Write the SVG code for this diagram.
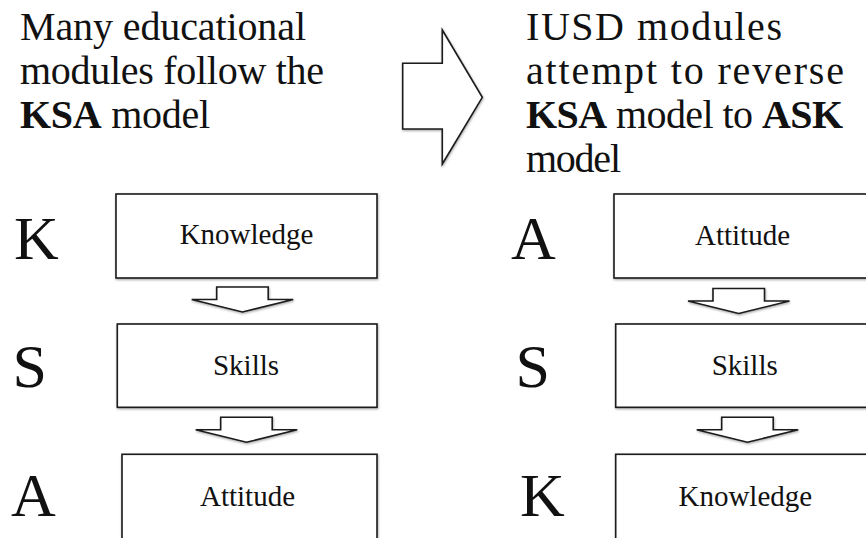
<svg xmlns="http://www.w3.org/2000/svg" width="866" height="538" viewBox="0 0 866 538">
<style>
  .hdr { font-size: 40px; fill: #111; }
  .b { font-weight: bold; }
  .big { font-size: 62px; fill: #111; }
  .lbl { font-size: 29px; fill: #111; text-anchor: middle; }
  .box { fill: #fff; stroke: #1a1a1a; stroke-width: 1.6; filter: url(#sh); }
  .arr { fill: #fff; stroke: #1a1a1a; stroke-width: 1.6; stroke-linejoin: miter; filter: url(#sh); }
</style>
<defs>
  <filter id="sh" x="-10%" y="-10%" width="130%" height="130%">
    <feDropShadow dx="0.6" dy="1.2" stdDeviation="0.8" flood-color="#000" flood-opacity="0.35"/>
  </filter>
  <path id="down" d="M0,0 H51.5 V12.5 H76.5 L25.75,25 L-25,12.5 H0 Z"/>
</defs>
<rect width="866" height="538" fill="#fff"/>
<g font-family="'Liberation Serif', 'DejaVu Serif', serif">
<g id="header-left">
  <text class="hdr" x="20" y="40" textLength="286">Many educational</text>
  <text class="hdr" x="20" y="84" textLength="304">modules follow the</text>
  <text class="hdr" x="20" y="128" textLength="190"><tspan class="b">KSA</tspan> model</text>
</g>
<g id="header-right">
  <text class="hdr" x="526" y="40" textLength="256">IUSD modules</text>
  <text class="hdr" x="526" y="84" textLength="318">attempt to reverse</text>
  <text class="hdr" x="526" y="128" textLength="317"><tspan class="b">KSA</tspan> model to <tspan class="b">ASK</tspan></text>
  <text class="hdr" x="526" y="172" textLength="95">model</text>
</g>

<g id="connectors">
  <polygon id="big-arrow" class="arr" points="402.7,63.3 442.3,63.3 442.3,30 482.3,97.3 442.3,164 442.3,129 402.7,129"/>
  <use class="arr" href="#down" transform="translate(216.7,287)"/>
  <use class="arr" href="#down" transform="translate(220.7,417.3)"/>
  <use class="arr" href="#down" transform="translate(713,288.5)"/>
  <use class="arr" href="#down" transform="translate(721.7,417.3)"/>
</g>

<g id="left-K">
  <text class="big" x="14" y="259">K</text>
  <rect class="box" x="116" y="194" width="261" height="84"/>
  <text class="lbl" x="246.5" y="244">Knowledge</text>
</g>
<g id="left-S">
  <text class="big" x="12.5" y="387">S</text>
  <rect class="box" x="117.3" y="324" width="259.7" height="83.3"/>
  <text class="lbl" x="246" y="375">Skills</text>
</g>
<g id="left-A">
  <text class="big" x="11" y="516">A</text>
  <rect class="box" x="122" y="454.3" width="255" height="100"/>
  <text class="lbl" x="247.5" y="505.7">Attitude</text>
</g>

<g id="right-A">
  <text class="big" x="511" y="259">A</text>
  <rect class="box" x="614" y="194" width="262" height="84"/>
  <text class="lbl" x="742.5" y="245">Attitude</text>
</g>
<g id="right-S">
  <text class="big" x="515.5" y="387">S</text>
  <rect class="box" x="615.7" y="324" width="262" height="83.3"/>
  <text class="lbl" x="744.7" y="375">Skills</text>
</g>
<g id="right-K">
  <text class="big" x="520" y="516">K</text>
  <rect class="box" x="615.7" y="454.3" width="262" height="100"/>
  <text class="lbl" x="745.3" y="505.7">Knowledge</text>
</g>
</g>
</svg>
